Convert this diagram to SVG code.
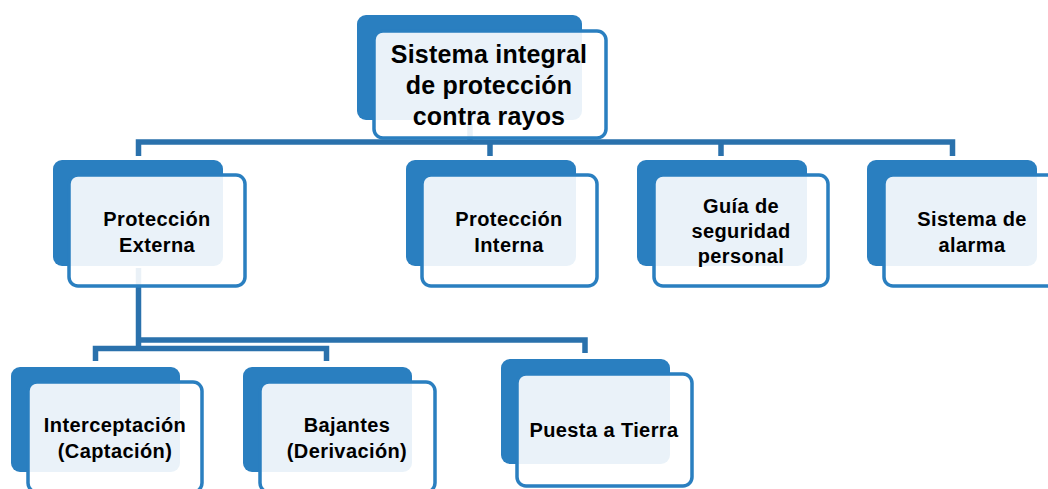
<svg xmlns="http://www.w3.org/2000/svg" width="1048" height="489" viewBox="0 0 1048 489">
<style>
.bk{fill:#2A7FC0}
.fr{fill:#FFFFFF;fill-opacity:0.9;stroke:#2A7FC0;stroke-width:3.5}
.cn{fill:none;stroke:#2A71AC;stroke-width:5.5;stroke-linejoin:miter}
.t{font-family:"Liberation Sans",Arial,sans-serif;font-weight:bold;fill:#000;text-anchor:middle;font-size:20px;letter-spacing:0.4px}
.tt{font-size:25px;letter-spacing:0.2px}
</style>
<rect width="1048" height="489" fill="#FFFFFF"/>
<g id="connectors">
<path class="cn" d="M470,124 V142"/>
<path class="cn" d="M138.5,156 V142 H952.5 V156"/>
<path class="cn" d="M490,142 V156"/>
<path class="cn" d="M721,142 V156"/>
<path class="cn" d="M138.5,268 V351"/>
<path class="cn" d="M138.5,340 H585 V353"/>
<path class="cn" d="M95.5,361 V348.5 H326.5 V361"/>
</g>
<g id="n-top">
<rect class="bk" x="357" y="15" width="225" height="105" rx="9"/>
<rect class="fr" x="374" y="31" width="232" height="107" rx="9"/>
<text class="t tt" x="489" y="63">Sistema integral</text>
<text class="t tt" x="489" y="94">de protección</text>
<text class="t tt" x="489" y="125">contra rayos</text>
</g>
<g id="n-externa">
<rect class="bk" x="53" y="160" width="170" height="106" rx="9"/>
<rect class="fr" x="69" y="175" width="176" height="111" rx="9"/>
<text class="t" x="157" y="226">Protección</text>
<text class="t" x="157" y="252">Externa</text>
</g>
<g id="n-interna">
<rect class="bk" x="406" y="160" width="170" height="106" rx="9"/>
<rect class="fr" x="422" y="175" width="175" height="111" rx="9"/>
<text class="t" x="509" y="226">Protección</text>
<text class="t" x="509" y="252">Interna</text>
</g>
<g id="n-guia">
<rect class="bk" x="637" y="160" width="170" height="106" rx="9"/>
<rect class="fr" x="654" y="175" width="174" height="111" rx="9"/>
<text class="t" x="741" y="213">Guía de</text>
<text class="t" x="741" y="238">seguridad</text>
<text class="t" x="741" y="263">personal</text>
</g>
<g id="n-alarma">
<rect class="bk" x="867" y="160" width="170" height="106" rx="9"/>
<rect class="fr" x="884" y="175" width="176" height="111" rx="9"/>
<text class="t" x="972" y="226">Sistema de</text>
<text class="t" x="972" y="252">alarma</text>
</g>
<g id="n-interceptacion">
<rect class="bk" x="11" y="367" width="169" height="105" rx="9"/>
<rect class="fr" x="28" y="382" width="174" height="110" rx="9"/>
<text class="t" x="115" y="432">Interceptación</text>
<text class="t" x="115" y="458">(Captación)</text>
</g>
<g id="n-bajantes">
<rect class="bk" x="243" y="367" width="169" height="105" rx="9"/>
<rect class="fr" x="260" y="382" width="175" height="110" rx="9"/>
<text class="t" x="347" y="432">Bajantes</text>
<text class="t" x="347" y="458">(Derivación)</text>
</g>
<g id="n-puesta">
<rect class="bk" x="501" y="359" width="169" height="105" rx="9"/>
<rect class="fr" x="517" y="374" width="175" height="112" rx="9"/>
<text class="t" x="604" y="437">Puesta a Tierra</text>
</g>
</svg>
